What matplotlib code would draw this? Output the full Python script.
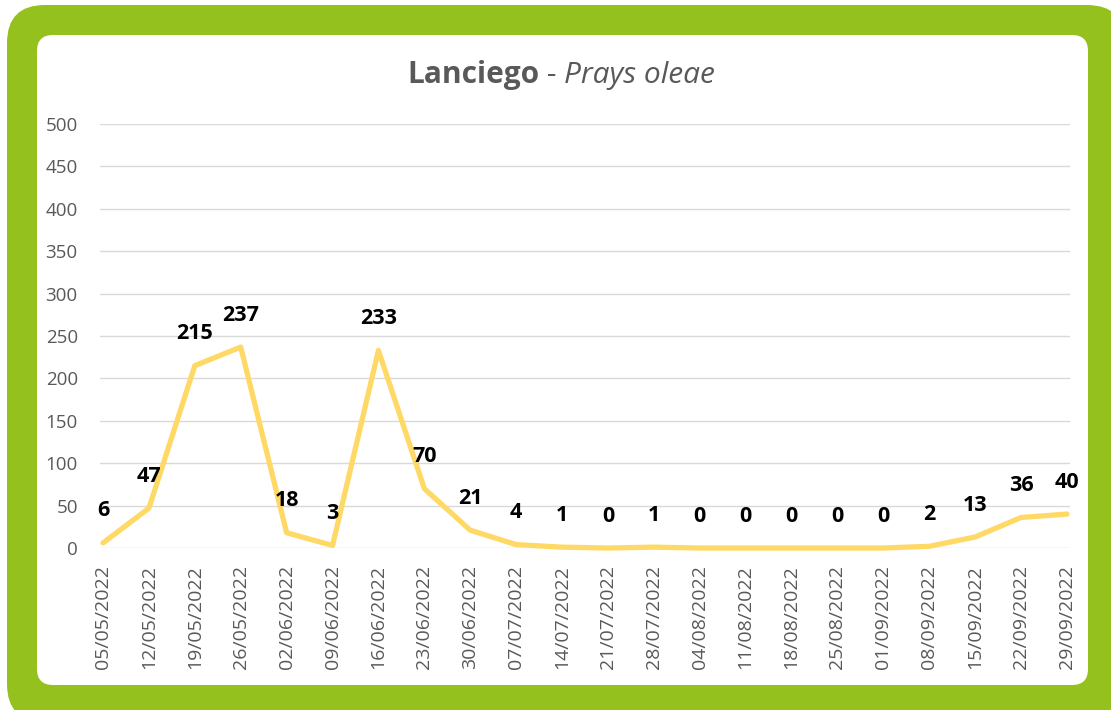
import matplotlib
matplotlib.use("Agg")
import matplotlib.pyplot as plt
from matplotlib.patches import FancyBboxPatch

plt.rcParams["font.family"] = ["Open Sans", "DejaVu Sans"]

# ---------------------------------------------------------------------------
# Datos: capturas semanales de Prays oleae en Lanciego
# ---------------------------------------------------------------------------
fechas = ["05/05/2022", "12/05/2022", "19/05/2022", "26/05/2022",
          "02/06/2022", "09/06/2022", "16/06/2022", "23/06/2022",
          "30/06/2022", "07/07/2022", "14/07/2022", "21/07/2022",
          "28/07/2022", "04/08/2022", "11/08/2022", "18/08/2022",
          "25/08/2022", "01/09/2022", "08/09/2022", "15/09/2022",
          "22/09/2022", "29/09/2022"]
capturas = [6, 47, 215, 237, 18, 3, 233, 70, 21, 4, 1, 0, 1, 0, 0, 0,
            0, 0, 2, 13, 36, 40]
yticks = list(range(0, 501, 50))

VERDE = "#95C11F"
LINEA = "#FFD966"
GRIS = "#595959"
REJILLA = "#D9D9D9"

W, H = 1111, 710
fig = plt.figure(figsize=(W / 100, H / 100), dpi=100)

# -- Fondo: marco verde redondeado y panel blanco --
bg = fig.add_axes([0, 0, 1, 1])
bg.set_xlim(0, W)
bg.set_ylim(H, 0)
bg.axis("off")
bg.add_patch(FancyBboxPatch((7, 5), 1125 - 7, 722 - 5,
                            boxstyle="round,pad=0,rounding_size=38",
                            fc=VERDE, ec="none"))
bg.add_patch(FancyBboxPatch((37, 35), 1088 - 37, 685 - 35,
                            boxstyle="round,pad=0,rounding_size=16",
                            fc="white", ec="none"))

# -- Gráfico --
x = list(range(len(fechas)))
ax = fig.add_axes([100 / W, 1 - 548 / H, 970 / W, 424 / H])
ax.set_facecolor("none")
ax.plot(x, capturas, color=LINEA, linewidth=3.8, solid_joinstyle="round",
        solid_capstyle="round", clip_on=False, zorder=3)

for i, v in zip(x, capturas):
    ax.annotate(str(v), (i, v), xytext=(0, 23), textcoords="offset points",
                ha="center", va="center", fontsize=15.5, fontweight="bold",
                color="black", zorder=4)

pad = 3 / 45.9
ax.set_xlim(-pad, len(fechas) - 1 + pad)
ax.set_ylim(0, 500)
ax.set_yticks(yticks)
ax.set_xticks(x)
ax.set_xticklabels(fechas, rotation=90, fontsize=14, color=GRIS)
ax.tick_params(axis="y", length=0, pad=16, labelsize=13.5, labelcolor=GRIS)
ax.tick_params(axis="x", length=0, pad=12)
ax.grid(axis="y", color=REJILLA, linewidth=1)
ax.set_axisbelow(True)
for s in ax.spines.values():
    s.set_visible(False)

# -- Título con estilos mezclados --
partes = [("Lanciego", "bold", "normal"),
          (" - ", "normal", "normal"),
          ("Prays oleae", "normal", "italic")]
textos = [fig.text(0, 0, t, fontsize=21.5, color=GRIS, fontweight=w,
                   fontstyle=st, va="baseline", ha="left")
          for t, w, st in partes]
renderer = fig.canvas.get_renderer()
anchos = [t.get_window_extent(renderer).width for t in textos]
x0 = 561 - sum(anchos) / 2
for t, a in zip(textos, anchos):
    t.set_position((x0 / W, 1 - 83 / H))
    x0 += a

fig.savefig("out.png", dpi=100)
